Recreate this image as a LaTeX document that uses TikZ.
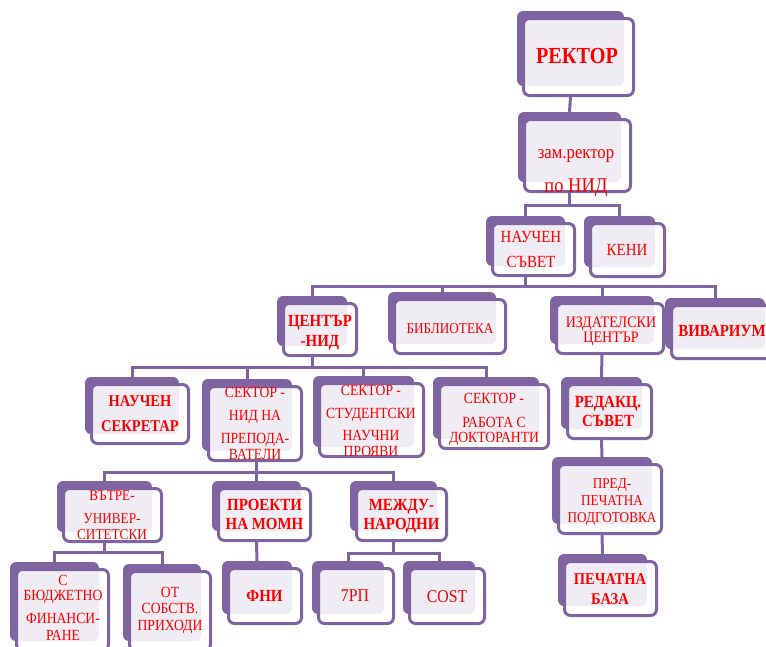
\documentclass[tikz,border=0pt]{standalone}
\usepackage{fontspec}
\setmainfont{Liberation Serif}[FakeStretch=0.88]
\definecolor{orgpurple}{RGB}{128,100,162}
\definecolor{orgred}{RGB}{255,0,0}
\newcommand\fsz[2]{\fontsize{#1}{#2}\selectfont}
\tikzset{
  backbox/.style={fill=orgpurple, draw=none, rounded corners=6pt, inner sep=0pt},
  frontbox/.style={draw=orgpurple, line width=3pt, fill=white, fill opacity=0.88, rounded corners=6pt, inner sep=0pt},
  conn/.style={draw=orgpurple, line width=3pt},
  txt/.style={text=orgred, inner sep=0pt, align=center, anchor=north},
}
% name, x1, y1, x2, y2 of the front box
\newcommand\obox[5]{%
  \node[backbox, minimum width={(#4-#2-6)*1pt}, minimum height={(#5-#3-5)*1pt}] (#1-b) at ({(#2+#4-16)/2},{(#3+#5-17)/2}) {};
  \node[frontbox, minimum width={(#4-#2-3)*1pt}, minimum height={(#5-#3-3)*1pt}] (#1) at ({(#2+#4)/2},{(#3+#5)/2}) {};
}
\begin{document}
\begin{tikzpicture}[x=1pt,y=-1pt]
\useasboundingbox[fill=white] (0,0) rectangle (766,646);

% boxes
\obox{rector}{522}{17}{635}{97}
\obox{zam}{523}{118}{632}{193}
\obox{ns}{491}{222}{576}{277}
\obox{keni}{589}{222}{666}{278}
\obox{cnid}{282}{302}{358}{357}
\obox{bib}{393}{298}{507}{355}
\obox{izd}{555}{302}{665}{355}
\obox{viv}{670}{304}{776}{360}
\obox{nsek}{90}{383}{190}{445}
\obox{snid}{207}{385}{303}{462}
\obox{sstud}{318}{382}{425}{458}
\obox{sdok}{438}{383}{550}{450}
\obox{red}{566}{383}{653}{440}
\obox{pred}{557}{463}{663}{535}
\obox{pb}{563}{560}{658}{617}
\obox{vatre}{62}{487}{163}{543}
\obox{proj}{217}{487}{312}{542}
\obox{mejdu}{355}{487}{448}{542}
\obox{bud}{15}{568}{110}{652}
\obox{sobst}{128}{570}{212}{652}
\obox{fni}{227}{567}{303}{625}
\obox{rp}{317}{567}{395}{625}
\obox{cost}{408}{567}{486}{625}

% bar levels
\coordinate (bar1) at (0,205);
\coordinate (bar2) at (0,286);
\coordinate (bar3) at (0,367);
\coordinate (bar4) at (0,472);
\coordinate (bar5) at (0,552);
\coordinate (bar6) at (0,553);

% connectors
\draw[conn] (rector-b |- rector.south) -- (zam-b.north);
\draw[conn] (zam-b |- zam.south) -- (zam-b |- bar1);
\draw[conn] (ns-b.north) |- (keni-b |- bar1) -- (keni-b.north);

\draw[conn] (ns-b |- ns.south) -- (ns-b |- bar2);
\draw[conn] (cnid-b.north) |- (viv-b |- bar2) -- (viv-b.north);
\draw[conn] (bib-b.north) -- (bib-b |- bar2);
\draw[conn] (izd-b.north) -- (izd-b |- bar2);

\draw[conn] (cnid-b |- cnid.south) -- (cnid-b |- bar3);
\draw[conn] (nsek-b.north) |- (sdok-b |- bar3) -- (sdok-b.north);
\draw[conn] (snid-b.north) -- (snid-b |- bar3);
\draw[conn] (sstud-b.north) -- (sstud-b |- bar3);

\draw[conn] (izd-b |- izd.south) -- (red-b.north);
\draw[conn] (red-b |- red.south) -- (pred-b.north);
\draw[conn] (pred-b |- pred.south) -- (pb-b.north);

\draw[conn] (proj-b |- snid.south) -- (proj-b |- bar4);
\draw[conn] (vatre-b.north) |- (mejdu-b |- bar4) -- (mejdu-b.north);
\draw[conn] (proj-b.north) -- (proj-b |- bar4);

\draw[conn] (vatre-b |- vatre.south) -- (vatre-b |- bar5);
\draw[conn] (bud-b.north) |- (sobst-b |- bar5) -- (sobst-b.north);

\draw[conn] (proj-b |- proj.south) -- (fni-b.north);

\draw[conn] (mejdu-b |- mejdu.south) -- (mejdu-b |- bar6);
\draw[conn] (rp-b.north) |- (cost-b |- bar6) -- (cost-b.north);

% texts
\node[txt, font=\bfseries\fsz{23}{28}] (t-rector) at (577,48) {РЕКТОР};
\node[txt, font=\fsz{19}{34}] (t-zam) at (576,149) {зам.ректор\\{\fsz{21}{34}по НИД}};
\node[txt, font=\fsz{17}{25}] (t-ns) at (531,231.5) {НАУЧЕН\\СЪВЕТ};
\node[txt, font=\fsz{17}{20}] (t-keni) at (627,244.5) {КЕНИ};
\node[txt, font=\bfseries\fsz{17}{20}] (t-cnid) at (320,315) {ЦЕНТЪР\\-НИД};
\node[txt, font=\fsz{15}{18}] (t-bib) at (450,323) {БИБЛИОТЕКА};
\node[txt, font=\fsz{16}{15}] (t-izd) at (611,317) {ИЗДАТЕЛСКИ\\ЦЕНТЪР};
\node[txt, font=\bfseries\fsz{17}{20}] (t-viv) at (722,325) {ВИВАРИУМ};
\node[txt, font=\bfseries\fsz{16.5}{25}] (t-nsek) at (140,395) {НАУЧЕН\\СЕКРЕТАР};
\node[txt, font=\fsz{15.5}{16}] (t-snid) at (255,387) {СЕКТОР -\\[7pt]НИД НА\\[7pt]ПРЕПОДА-\\ВАТЕЛИ};
\node[txt, font=\fsz{15.5}{16}] (t-sstud) at (371,385) {СЕКТОР -\\[7pt]СТУДЕНТСКИ\\[6pt]НАУЧНИ\\ПРОЯВИ};
\node[txt, font=\fsz{15.5}{15}] (t-sdok) at (494,393) {СЕКТОР -\\[9pt]РАБОТА С\\ДОКТОРАНТИ};
\node[txt, font=\bfseries\fsz{17}{19}] (t-red) at (608,396) {РЕДАКЦ.\\СЪВЕТ};
\node[txt, font=\fsz{15}{17}] (t-pred) at (612,478) {ПРЕД-\\ПЕЧАТНА\\ПОДГОТОВКА};
\node[txt, font=\bfseries\fsz{16.5}{20}] (t-pb) at (610,573) {ПЕЧАТНА\\БАЗА};
\node[txt, font=\fsz{15}{16}] (t-vatre) at (112,490) {ВЪТРЕ-\\[7pt]УНИВЕР-\\СИТЕТСКИ};
\node[txt, font=\bfseries\fsz{17}{19.5}] (t-proj) at (264.5,499) {ПРОЕКТИ\\НА МОМН};
\node[txt, font=\bfseries\fsz{17}{19.5}] (t-mejdu) at (401.5,499) {МЕЖДУ-\\НАРОДНИ};
\node[txt, font=\fsz{15.5}{16}] (t-bud) at (63,575) {С\\[-1pt]БЮДЖЕТНО\\[7pt]ФИНАНСИ-\\[1pt]РАНЕ};
\node[txt, font=\fsz{15.5}{16.5}] (t-sobst) at (170,587) {ОТ\\СОБСТВ.\\ПРИХОДИ};
\node[txt, font=\bfseries\fsz{17}{20}] (t-fni) at (264.5,590) {ФНИ};
\node[txt, font=\fsz{18}{20}] (t-rp) at (355,590) {7РП};
\node[txt, font=\fsz{18}{20}] (t-cost) at (447,590) {COST};
\end{tikzpicture}
\end{document}
